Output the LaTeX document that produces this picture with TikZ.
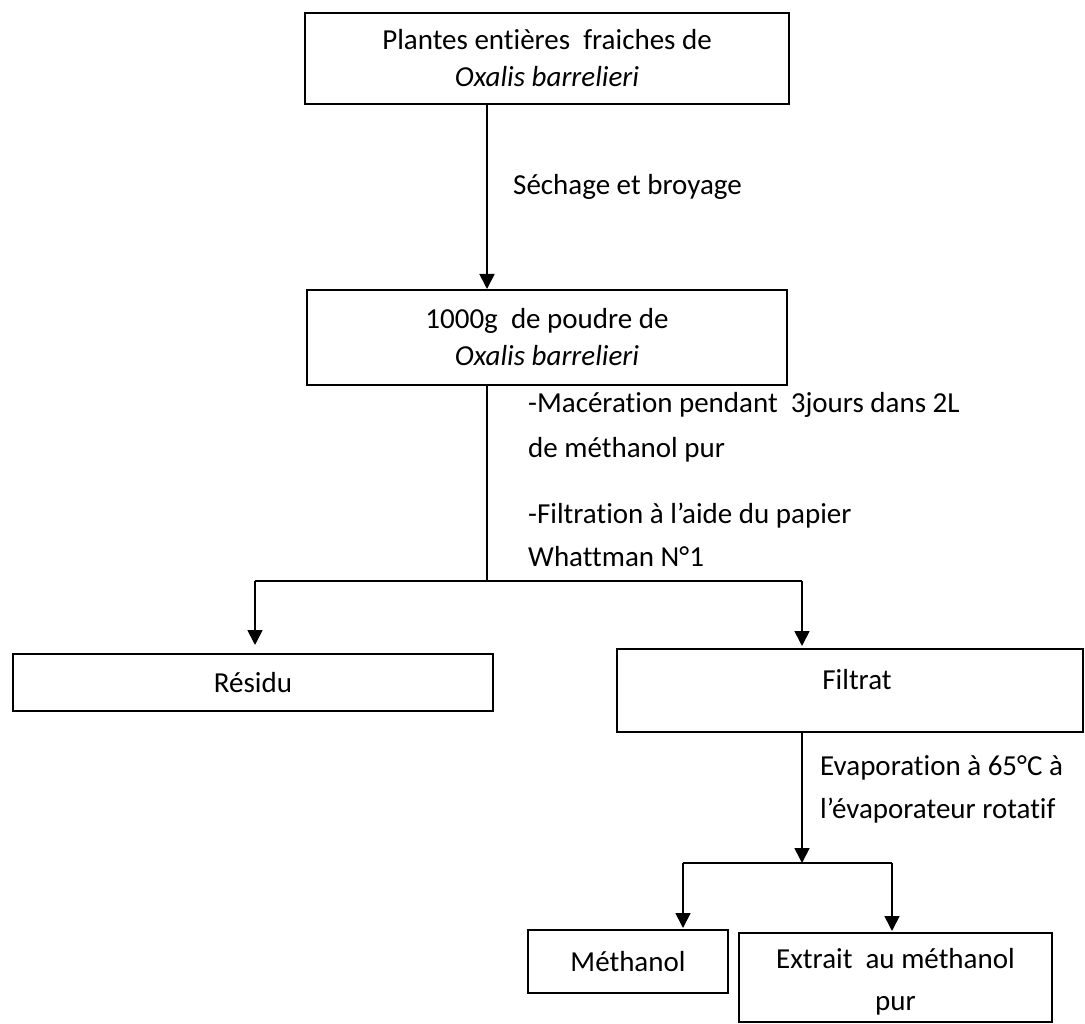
\documentclass[tikz,border=0pt]{standalone}
\usepackage{fontspec}
\setmainfont{Carlito}[Ligatures=CommonOff]
\usetikzlibrary{arrows.meta}
\tikzset{
  box/.style={draw=black, line width=2pt, rectangle, inner sep=0pt, align=center, font=\fontsize{29}{37}\selectfont},
  conn/.style={draw=black, line width=1.7pt},
  arr/.style={conn, -{Triangle[width=15pt,length=15pt]}},
  lbl/.style={anchor=base west, inner sep=0pt, font=\fontsize{29}{37}\selectfont}
}
\begin{document}
\begin{tikzpicture}[x=1pt,y=-1pt]
\useasboundingbox[fill=white] (0,0) rectangle (1085,1024);
% boxes
\node[box, minimum width=484pt, minimum height=91pt] (top) at (547,58.5) {Plantes entières~ fraiches de\\ \textit{Oxalis barrelieri}};
\node[box, minimum width=480pt, minimum height=95pt] (pow) at (547,337.5) {1000g~ de poudre de\\ \textit{Oxalis barrelieri}};
\node[box, minimum width=480pt, minimum height=57pt] (res) at (253,682.5) {Résidu};
\node[box, minimum width=466pt, minimum height=83pt] (fil) at (850,690.5) {};
\node[lbl, anchor=center] (filtxt) at (857,680) {Filtrat};
\node[box, minimum width=200pt, minimum height=63pt] (meth) at (628,961.5) {Méthanol};
\node[box, minimum width=313pt, minimum height=89pt] (ext) at (895.5,977.5) {};
\node[lbl, anchor=center, align=center, font=\fontsize{29}{42}\selectfont] (exttxt) at (895.5,982) {Extrait~ au méthanol\\ pur};
% junctions
\coordinate (j1) at (487,581);
\coordinate (jl) at (255,581);
\coordinate (jr) at (802,581);
\coordinate (j2) at (802,863);
\coordinate (j2l) at (683,863);
\coordinate (j2r) at (892,863);
% connectors
\draw[arr] (top.south -| j1) -- (pow.north -| j1);
\draw[conn] (pow.south -| j1) -- (j1);
\draw[conn] (jl) -- (jr);
\draw[arr, shorten >=8pt] (jl) -- (res.north -| jl);
\draw[arr, shorten >=2pt] (jr) -- (fil.north -| jr);
\draw[arr] (fil.south -| j2) -- (j2);
\draw[conn] (j2l) -- (j2r);
\draw[arr, shorten >=1pt] (j2l) -- (meth.north -| j2l);
\draw[arr, shorten >=1pt] (j2r) -- (ext.north -| j2r);
% labels
\node[lbl] (l1) at (513,195) {Séchage et broyage};
\node[lbl] (l2) at (528,413) {-Macération pendant~ 3jours dans 2L};
\node[lbl] (l3) at (528,457) {de méthanol pur};
\node[lbl] (l4) at (528,523) {-Filtration à l’aide du papier};
\node[lbl] (l5) at (528,566) {Whattman N°1};
\node[lbl] (l6) at (820,775) {Evaporation à 65°C à};
\node[lbl] (l7) at (820,818) {l’évaporateur rotatif};
\end{tikzpicture}
\end{document}
